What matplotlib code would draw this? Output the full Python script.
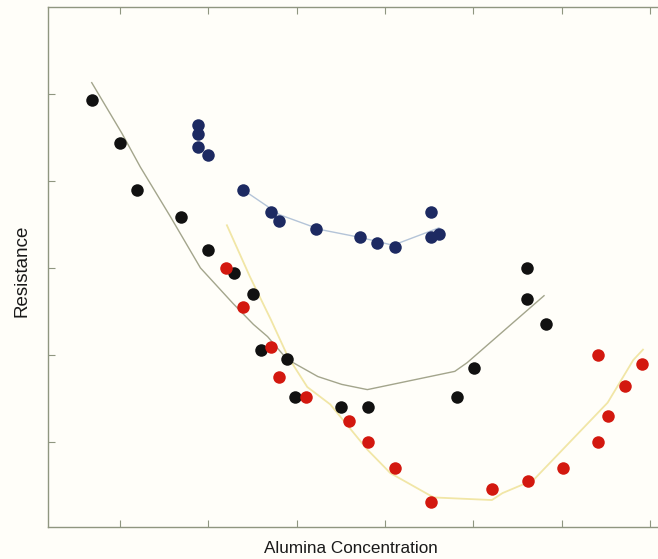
import matplotlib
matplotlib.use('Agg')
import matplotlib.pyplot as plt

# measured points, black series
black_x = [0.68, 1.00, 1.19, 1.69, 2.00, 2.29, 2.50, 2.60, 2.89, 2.98, 3.50, 3.81, 4.81, 5.01, 5.61, 5.61, 5.82]
black_y = [4.93, 4.44, 3.89, 3.59, 3.20, 2.94, 2.70, 2.05, 1.95, 1.51, 1.40, 1.40, 1.51, 1.85, 3.00, 2.64, 2.36]

# blue series
blue_x = [1.88, 1.88, 1.88, 2.00, 2.39, 2.71, 2.80, 3.22, 3.72, 3.91, 4.11, 4.52, 4.52, 4.61]
blue_y = [4.64, 4.54, 4.39, 4.30, 3.89, 3.64, 3.54, 3.45, 3.35, 3.29, 3.24, 3.64, 3.35, 3.39]

# red series
red_x = [2.20, 2.39, 2.71, 2.80, 3.10, 3.59, 3.81, 4.11, 4.52, 5.21, 5.62, 6.02, 6.41, 6.52, 6.41, 6.72, 6.91]
red_y = [3.00, 2.55, 2.09, 1.75, 1.51, 1.24, 1.00, 0.70, 0.31, 0.46, 0.55, 0.70, 1.00, 1.30, 2.00, 1.64, 1.90]

# fitted curves
black_fit_x = [0.68, 1.02, 1.23, 1.57, 1.91, 2.28, 2.51, 2.67, 2.89, 3.24, 3.51, 3.80, 4.79, 4.93, 5.80]
black_fit_y = [5.13, 4.55, 4.16, 3.59, 3.00, 2.59, 2.35, 2.21, 1.95, 1.75, 1.66, 1.60, 1.81, 1.91, 2.68]

blue_fit_x = [2.39, 2.81, 3.27, 3.72, 4.09, 4.61]
blue_fit_y = [3.90, 3.61, 3.44, 3.35, 3.26, 3.46]

red_fit_x = [2.21, 2.47, 2.71, 2.90, 3.12, 3.38, 3.80, 4.06, 4.55, 5.21, 5.33, 5.68, 6.52, 6.81, 6.92]
red_fit_y = [3.49, 2.90, 2.40, 1.98, 1.63, 1.43, 0.91, 0.64, 0.36, 0.33, 0.41, 0.56, 1.45, 1.94, 2.06]

axis_col = '#8f9680'

fig = plt.figure(figsize=(6.58, 5.59), dpi=100)
fig.patch.set_facecolor('#fffef9')
ax = fig.add_axes([48 / 658, 32 / 559, 1 - 48 / 658, 520 / 559])
ax.set_facecolor('#fffef9')

ax.plot(black_fit_x, black_fit_y, '-', color='#a3a58c', lw=1.0)
ax.plot(blue_fit_x, blue_fit_y, '-', color='#b4c4d8', lw=1.0)
ax.plot(red_fit_x, red_fit_y, '-', color='#f1e6a6', lw=1.3)

ax.plot(black_x, black_y, 'o', color='#111111', ms=9, mec='none')
ax.plot(blue_x, blue_y, 'o', color='#1d2a62', ms=9, mec='none')
ax.plot(red_x, red_y, 'o', color='#d3180f', ms=9, mec='none')

ax.set_xlim(0.185, 7.09)
ax.set_ylim(0.02, 6.0)
ax.set_xticks([1, 2, 3, 4, 5, 6, 7])
ax.set_yticks([1, 2, 3, 4, 5])
ax.tick_params(direction='in', length=5, width=0.8, color=axis_col,
               labelbottom=False, labelleft=False, top=True)
for side in ['left', 'top', 'bottom']:
    ax.spines[side].set_color(axis_col)
    ax.spines[side].set_linewidth(1.0)
ax.spines['right'].set_visible(False)

fig.text(0.533, 0.019, 'Alumina Concentration', ha='center', va='center',
         fontsize=12.3, family='Liberation Sans', color='#1a1a1a')
fig.text(0.033, 0.515, 'Resistance', ha='center', va='center', rotation=90,
         fontsize=13.5, family='Liberation Sans', color='#1a1a1a')

plt.savefig('out.png', dpi=100, facecolor=fig.get_facecolor())
